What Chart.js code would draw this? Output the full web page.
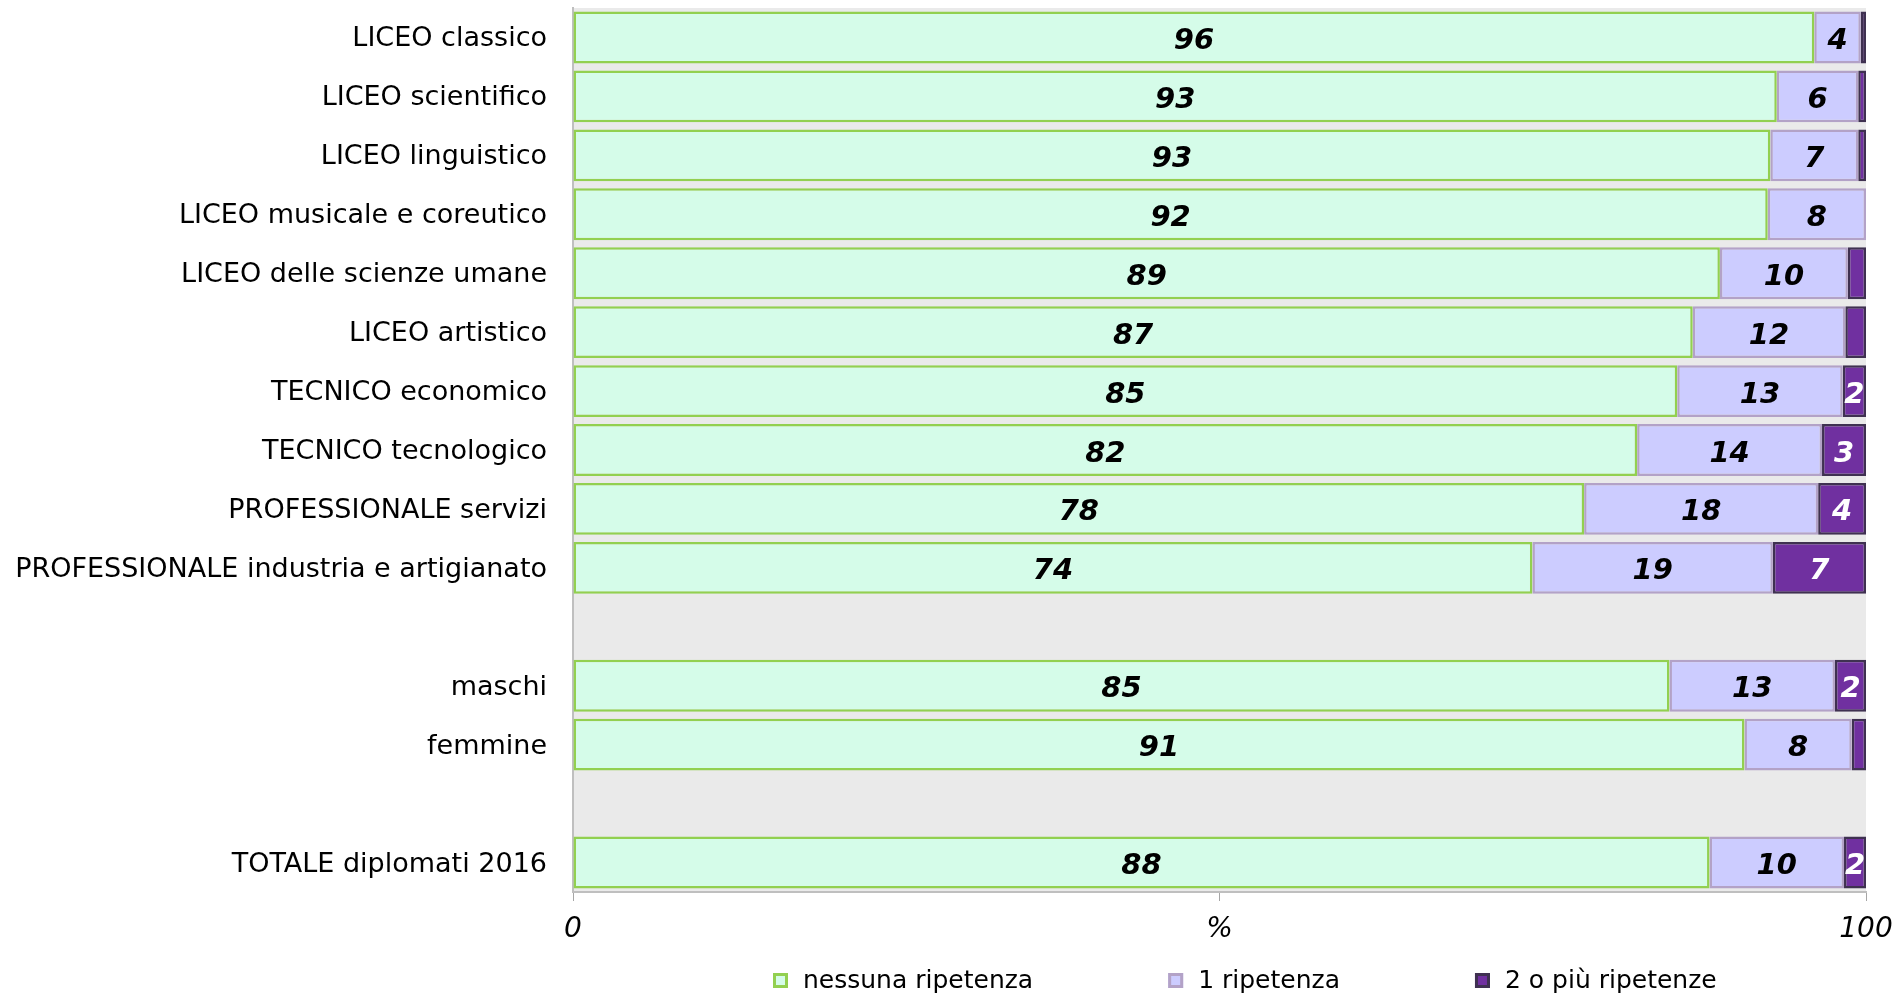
<!DOCTYPE html>
<html>
<head>
<meta charset="utf-8">
<script src="https://cdn.jsdelivr.net/npm/chart.js@4/dist/chart.umd.min.js"></script>
<style>
html,body{margin:0;padding:0;background:#fff;}
#wrap{position:relative;width:1897px;height:994px;}
</style>
</head>
<body>
<div id="wrap"><canvas id="c"></canvas></div>
<script>
const categories = [
  'LICEO classico',
  'LICEO scientifico',
  'LICEO linguistico',
  'LICEO musicale e coreutico',
  'LICEO delle scienze umane',
  'LICEO artistico',
  'TECNICO economico',
  'TECNICO tecnologico',
  'PROFESSIONALE servizi',
  'PROFESSIONALE industria e artigianato',
  '',
  'maschi',
  'femmine',
  '',
  'TOTALE diplomati 2016'
];
const seriesNames = ['nessuna ripetenza', '1 ripetenza', '2 o più ripetenze'];
const nessunaRipetenza = [96.0, 93.1, 92.6, 92.4, 88.7, 86.6, 85.4, 82.3, 78.2, 74.2, null, 84.8, 90.6, null, 87.9];
const unaRipetenza     = [3.6, 6.3, 6.8, 7.6, 9.9, 11.8, 12.8, 14.3, 18.1, 18.6, null, 12.8, 8.3, null, 10.4];
const dueOPiu          = [0.4, 0.6, 0.6, 0, 1.4, 1.6, 1.8, 3.4, 3.7, 7.2, null, 2.4, 1.1, null, 1.7];
const xTickValues = [0, 50, 100];
const xTickLabels = ['0', '%', '100'];

const FONT = "'DejaVu Sans', Verdana, sans-serif";
Chart.defaults.font.family = FONT;
Chart.defaults.color = '#000';

const plotBg = {
  id: 'plotBg',
  beforeDraw(chart) {
    const {ctx, chartArea: a} = chart;
    ctx.save();
    ctx.fillStyle = '#EAEAEA';
    ctx.fillRect(a.left, a.top, a.right - a.left, a.bottom - a.top);
    ctx.restore();
  }
};

const valueLabels = {
  id: 'valueLabels',
  afterDatasetsDraw(chart) {
    const ctx = chart.ctx;
    ctx.save();
    ctx.font = "italic bold 29px " + FONT;
    ctx.textAlign = 'center';
    ctx.textBaseline = 'middle';
    chart.data.datasets.forEach((ds, i) => {
      const meta = chart.getDatasetMeta(i);
      meta.data.forEach((bar, j) => {
        const v = ds.data[j];
        if (v == null || v < 1.7) return;
        ctx.fillStyle = ds.labelColor;
        ctx.fillText(String(Math.round(v)), (bar.x + bar.base) / 2, bar.y + 4);
      });
    });
    ctx.restore();
  }
};

const customLegend = {
  id: 'customLegend',
  afterDraw(chart) {
    const ctx = chart.ctx;
    ctx.save();
    ctx.font = "25px " + FONT;
    ctx.textBaseline = 'middle';
    ctx.textAlign = 'left';
    let x = 773;
    const yMid = 981;
    chart.data.datasets.forEach((ds) => {
      ctx.fillStyle = ds.backgroundColor;
      ctx.fillRect(x, yMid - 8, 15, 15);
      ctx.strokeStyle = ds.borderColor;
      ctx.lineWidth = 3;
      ctx.strokeRect(x + 1.5, yMid - 6.5, 12, 12);
      ctx.fillStyle = '#000';
      ctx.fillText(ds.label, x + 30, yMid);
      x += 30 + ctx.measureText(ds.label).width + 135;
    });
    ctx.restore();
  }
};

new Chart(document.getElementById('c'), {
  type: 'bar',
  data: {
    labels: categories,
    datasets: [
      {label: seriesNames[0], data: nessunaRipetenza, backgroundColor: '#D5FCE9', borderColor: '#92D050', borderWidth: 2.5, borderSkipped: false, labelColor: '#000'},
      {label: seriesNames[1], data: unaRipetenza, backgroundColor: '#CCCCFF', borderColor: '#B3A2C7', borderWidth: 2.5, borderSkipped: false, labelColor: '#000'},
      {label: seriesNames[2], data: dueOPiu, backgroundColor: '#7030A0', borderColor: '#3F3151', borderWidth: 2.5, borderSkipped: false, labelColor: '#fff'}
    ]
  },
  options: {
    indexAxis: 'y',
    responsive: true,
    maintainAspectRatio: false,
    animation: false,
    barPercentage: 0.88,
    categoryPercentage: 1.0,
    layout: {padding: {top: 8, left: 0, right: 31, bottom: 52}},
    plugins: {
      legend: {display: false},
      tooltip: {enabled: false}
    },
    scales: {
      x: {
        stacked: true,
        min: 0,
        max: 100,
        afterBuildTicks(scale) { scale.ticks = xTickValues.map(v => ({value: v})); },
        afterFit(scale) { scale.height = 50; scale.paddingLeft = 0; scale.paddingRight = 0; scale.paddingTop = 0; scale.paddingBottom = 0; },
        ticks: {
          padding: 12,
          maxRotation: 0,
          font: {size: 28, style: 'italic'},
          color: '#000',
          callback: (v) => xTickLabels[xTickValues.indexOf(v)]
        },
        grid: {drawOnChartArea: false, drawTicks: true, tickLength: 9, color: '#A6A6A6', lineWidth: 1},
        border: {display: true, color: '#BFBFBF', width: 2}
      },
      y: {
        stacked: true,
        afterFit(scale) { scale.width = 573; scale.paddingTop = 0; scale.paddingBottom = 0; scale.paddingLeft = 0; scale.paddingRight = 0; },
        ticks: {padding: 26, labelOffset: 2, font: {size: 27}, color: '#000', autoSkip: false},
        grid: {display: false, drawTicks: false},
        border: {display: true, color: '#BFBFBF', width: 2}
      }
    }
  },
  plugins: [plotBg, valueLabels, customLegend]
});
</script>
</body>
</html>
